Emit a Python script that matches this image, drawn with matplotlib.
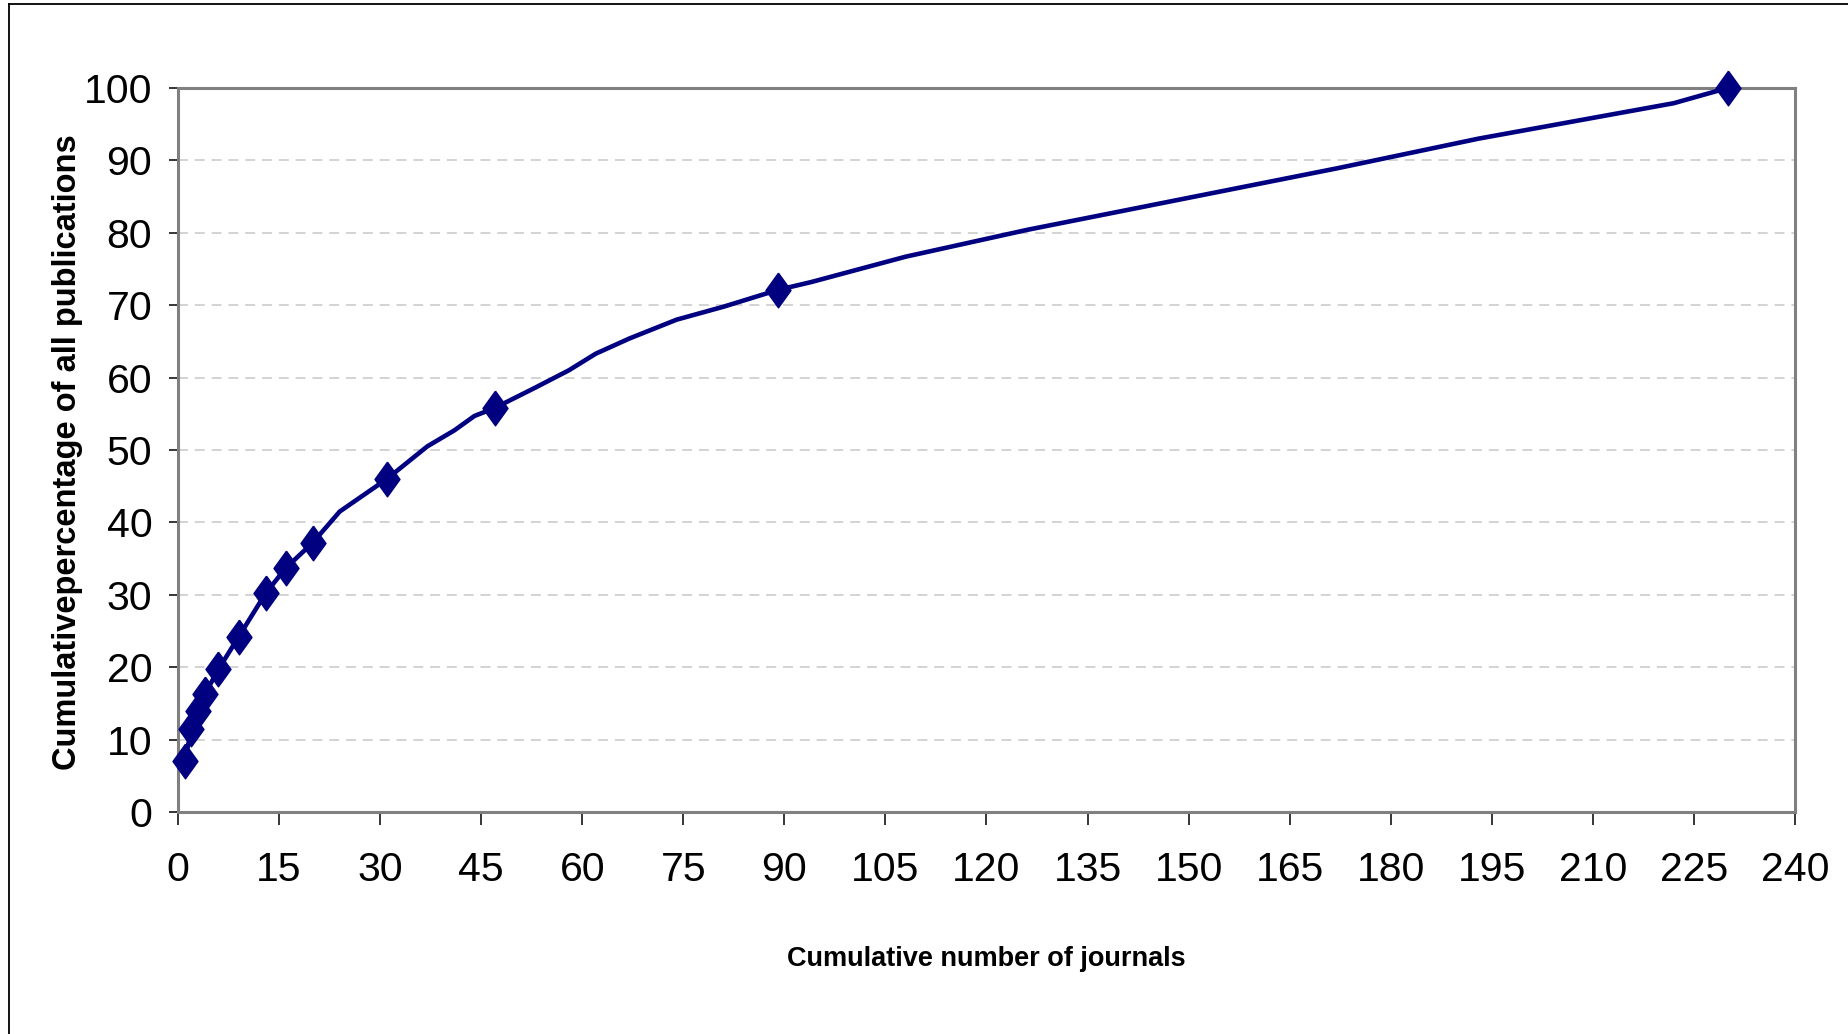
import matplotlib
matplotlib.use('Agg')
import matplotlib.pyplot as plt
from matplotlib.lines import Line2D
from matplotlib import font_manager

# - Data
journals = [1, 2, 3, 4, 6, 9, 13, 16, 20, 24, 31, 37, 41, 44, 47, 53, 58, 62,
            67, 74, 81, 89, 94, 108, 126, 172, 193, 222, 230]
cum_pct = [7.0, 11.5, 14.0, 16.3, 19.7, 24.2, 30.2, 33.7, 37.2, 41.5, 46.0,
           50.5, 52.7, 54.7, 55.8, 58.6, 61.0, 63.3, 65.4, 68.0, 69.8, 72.1,
           73.2, 76.7, 80.4, 88.9, 93.0, 97.9, 100.0]
marked_journals = [1, 2, 3, 4, 6, 9, 13, 16, 20, 31, 47, 89, 230]

x_ticks = list(range(0, 241, 15))
y_ticks = list(range(0, 101, 10))

# - Pick a narrow font if one is there
names = {f.name for f in font_manager.fontManager.ttflist}
narrow = [n for n in ('Liberation Sans Narrow', 'DejaVu Sans Condensed') if n in names]
font_tick = narrow + ['Liberation Sans', 'DejaVu Sans']
is_narrow = len(narrow) > 0
tick_size = 33 if is_narrow else 29.5
ylab_size = 25 if is_narrow else 23.5
xlab_size = 23 if is_narrow else 19.5

fig = plt.figure(figsize=(18.49, 10.34), dpi=100)
ax = fig.add_axes([178/1849, 1 - 812/1034, (1795 - 178)/1849, (812 - 88)/1034])

# - Grid
for y in y_ticks[1:-1]:
    ax.axhline(y, color='#c8c8c8', lw=1.1, dashes=(6.5, 4.5), zorder=1)

# - Series
diamond = [(0, 1), (0.72, 0), (0, -1), (-0.72, 0), (0, 1)]
mark_idx = [i for i, j in enumerate(journals) if j in marked_journals]
ax.plot(journals, cum_pct, color='#000080', lw=3.3, marker=diamond,
        markersize=25, markevery=mark_idx, markerfacecolor='#000080',
        markeredgecolor='#000080', zorder=3, clip_on=False)

ax.set_xlim(0, 240)
ax.set_ylim(0, 100)
ax.set_xticks(x_ticks)
ax.set_yticks(y_ticks)

for s in ax.spines.values():
    s.set_color('#808080')
    s.set_linewidth(2.2)

ax.tick_params(axis='x', direction='out', length=9, width=1.1, color='black', pad=19)
ax.tick_params(axis='y', direction='out', length=6.5, width=1.1, color='black', pad=12)
for lbl in ax.get_xticklabels() + ax.get_yticklabels():
    lbl.set_family(font_tick)
    lbl.set_fontsize(tick_size)

# - Axis titles
fig.text(986/1849, 1 - 966/1034, 'Cumulative number of journals',
         ha='center', va='baseline', fontsize=xlab_size, fontweight='bold',
         family=font_tick)
fig.text(68/1849, 1 - 452/1034, 'Cumulativepercentage of all publications',
         ha='center', va='center', rotation=90, fontsize=ylab_size, fontweight='bold',
         family=font_tick)

# - Outer frame (left and top only visible)
fig.add_artist(Line2D([9.5/1849, 9.5/1849], [0, 1 - 4/1034], color='black', lw=1.3))
fig.add_artist(Line2D([9.5/1849, 1], [1 - 4/1034, 1 - 4/1034], color='black', lw=1.3))

fig.savefig('out.png', dpi=100)
plt.close()
